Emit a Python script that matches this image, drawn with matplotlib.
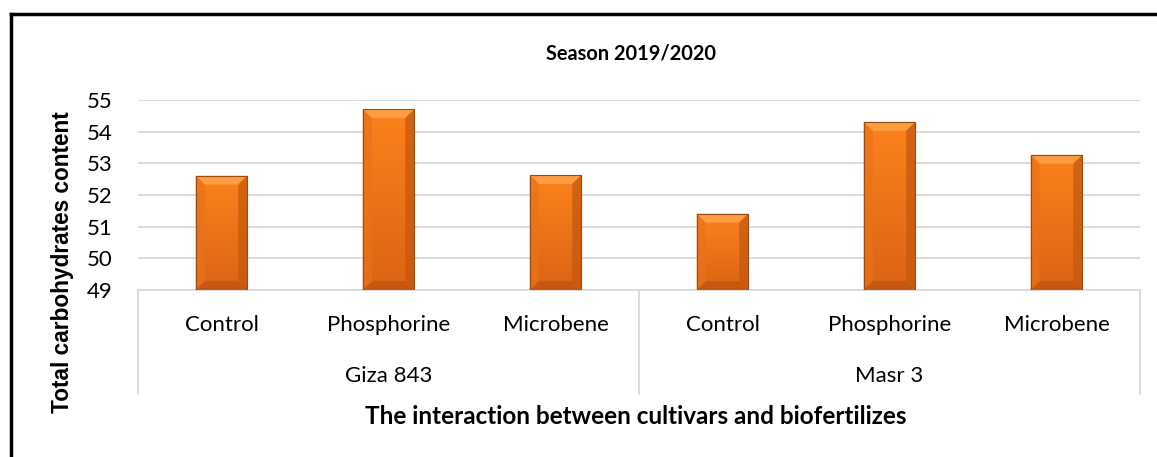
import numpy as np
import matplotlib.pyplot as plt
from matplotlib.patches import Polygon
from matplotlib.transforms import blended_transform_factory

# Total carbohydrates content, season 2019/2020
CULTIVARS = ["Giza 843", "Masr 3"]
TREATMENTS = ["Control", "Phosphorine", "Microbene"]
CARBS = [52.61, 54.71, 52.63, 51.41, 54.31, 53.27]
YMIN, YMAX = 49, 55

BAR_W = 0.31
ORANGE_TOP = np.array([0.99, 0.51, 0.11])
ORANGE_BOT = np.array([0.86, 0.39, 0.08])

plt.rcParams["font.family"] = ["Lato", "DejaVu Sans"]

fig = plt.figure(figsize=(11.57, 4.57), dpi=100)
ax = fig.add_axes([138 / 1157, 1 - 290 / 457, 1002 / 1157, 190 / 457])

n = len(CARBS)
x = np.arange(n)
ax.set_xlim(-0.5, n - 0.5)
ax.set_ylim(YMIN, YMAX)

# gridlines
for v in range(YMIN + 1, YMAX + 1):
    ax.axhline(v, color="#d9d9d9", lw=1.3, zorder=0)
ax.axhline(YMIN, color="#d9d9d9", lw=1.3, zorder=0, clip_on=False)

grad = np.linspace(0, 1, 64)[:, None, None]
grad_img = ORANGE_BOT + (ORANGE_TOP - ORANGE_BOT) * grad

bars = ax.bar(x, np.array(CARBS) - YMIN, bottom=YMIN, width=BAR_W,
              color="none", edgecolor="#9a4a12", lw=0.8, zorder=3)
dx = 0.055
dy = 0.28
for xi, val, rect in zip(x, CARBS, bars):
    x0, x1 = xi - BAR_W / 2, xi + BAR_W / 2
    im = ax.imshow(grad_img, extent=[x0, x1, YMIN, val], origin="lower",
                   aspect="auto", zorder=2)
    im.set_clip_path(rect)
    # bevel facets
    top = Polygon([[x0, val], [x1, val], [x1 - dx, val - dy], [x0 + dx, val - dy]],
                  closed=True, fc="#ffa24a", ec="none", alpha=0.85, zorder=2.5)
    bot = Polygon([[x0, YMIN], [x1, YMIN], [x1 - dx, YMIN + dy], [x0 + dx, YMIN + dy]],
                  closed=True, fc="#b8500f", ec="none", alpha=0.6, zorder=2.5)
    left = Polygon([[x0, YMIN], [x0 + dx, YMIN + dy], [x0 + dx, val - dy], [x0, val]],
                   closed=True, fc="#e8731a", ec="none", alpha=0.7, zorder=2.5)
    right = Polygon([[x1, YMIN], [x1 - dx, YMIN + dy], [x1 - dx, val - dy], [x1, val]],
                    closed=True, fc="#c2570f", ec="none", alpha=0.7, zorder=2.5)
    for p in (top, bot, left, right):
        ax.add_patch(p)

for s in ax.spines.values():
    s.set_visible(False)

ax.set_yticks(range(YMIN, YMAX + 1))
ax.tick_params(axis="y", length=0, labelsize=16, pad=18)
ax.set_xticks([])

# two-level category axis
trans = blended_transform_factory(ax.transData, ax.transAxes)
for b in [-0.5, 2.5, 5.5]:
    ax.plot([b, b], [0, -0.545], color="#d9d9d9", lw=1.3, transform=trans,
            clip_on=False)
labels = [t for _ in CULTIVARS for t in TREATMENTS]
for xi, lab in zip(x, labels):
    ax.text(xi, -0.185, lab, transform=trans, ha="center", va="center", fontsize=16)
for i, cv in enumerate(CULTIVARS):
    ax.text(1 + 3 * i, -0.455, cv, transform=trans, ha="center", va="center",
            fontsize=16)

fig.text(631 / 1157, 1 - 53 / 457, "Season 2019/2020", ha="center", va="center",
         fontsize=14.4, fontweight="bold")
fig.text(636 / 1157, 1 - 417 / 457, "The interaction between cultivars and biofertilizes",
         ha="center", va="center", fontsize=17.5, fontweight="bold")
fig.text(63 / 1157, 1 - 262 / 457, "Total carbohydrates content", rotation=90,
         ha="center", va="center", fontsize=16.3, fontweight="bold",
         family=["Liberation Sans", "DejaVu Sans"])

# frame
fig.add_artist(plt.Line2D([11 / 1157, 11 / 1157], [0, 1 - 14 / 457], color="black", lw=2.5))
fig.add_artist(plt.Line2D([11 / 1157, 1], [1 - 14 / 457, 1 - 14 / 457], color="black", lw=2.5))

fig.savefig("out.png", dpi=100)
